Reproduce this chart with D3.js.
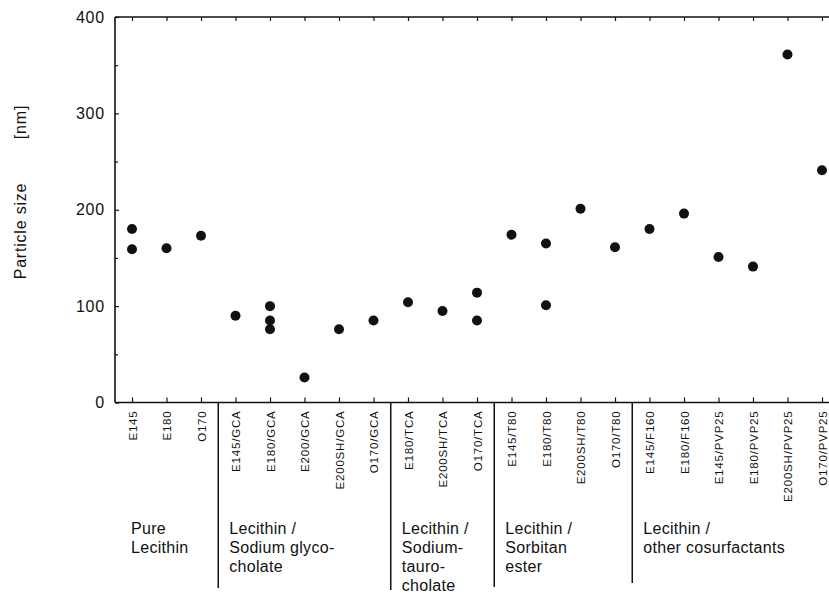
<!DOCTYPE html>
<html>
<head>
<meta charset="utf-8">
<script src="https://cdn.jsdelivr.net/npm/d3@7"></script>
<style>
  html, body { margin: 0; padding: 0; background: #fff; }
  svg { display: block; }
  text { font-family: "Liberation Sans", Arial, Helvetica, sans-serif; fill: #111; }
</style>
</head>
<body>
<svg id="chart" width="829" height="598"></svg>
<script>
const categories = [
  "E145", "E180", "O170",
  "E145/GCA", "E180/GCA", "E200/GCA", "E200SH/GCA", "O170/GCA",
  "E180/TCA", "E200SH/TCA", "O170/TCA",
  "E145/T80", "E180/T80", "E200SH/T80", "O170/T80",
  "E145/F160", "E180/F160", "E145/PVP25", "E180/PVP25", "E200SH/PVP25", "O170/PVP25"
];
const particleSizes = [
  [180, 159], [160], [173],
  [90], [100, 85, 76], [26], [76], [85],
  [104], [95], [114, 85],
  [174], [165, 101], [201], [161],
  [180], [196], [151], [141], [361], [241]
];
const groupSizes = [3, 5, 3, 4, 6];
const groupLabels = [
  ["Pure", "Lecithin"],
  ["Lecithin /", "Sodium glyco-", "cholate"],
  ["Lecithin /", "Sodium-", "tauro-", "cholate"],
  ["Lecithin /", "Sorbitan", "ester"],
  ["Lecithin /", "other cosurfactants"]
];
const yMajorTicks = [0, 100, 200, 300, 400];
const yMinorTicks = [50, 150, 250, 350];
const yTitle = "Particle size";
const yUnit = "[nm]";

const W = 829, H = 598;
const axisX = 115, topY = 17, bottomY = 402.5;
const svg = d3.select("#chart");

const x = d3.scalePoint().domain(categories).range([132, 822]);
const y = d3.scaleLinear().domain([0, 400]).range([bottomY, topY]);

// frame lines
svg.append("line").attr("x1", axisX).attr("x2", axisX).attr("y1", topY).attr("y2", bottomY)
  .attr("stroke", "#111").attr("stroke-width", 1.6);
svg.append("line").attr("x1", axisX).attr("x2", W).attr("y1", bottomY).attr("y2", bottomY)
  .attr("stroke", "#111").attr("stroke-width", 1.6);
svg.append("line").attr("x1", axisX).attr("x2", W).attr("y1", topY).attr("y2", topY)
  .attr("stroke", "#111").attr("stroke-width", 1.4);

// y axis
const yAxis = svg.append("g").attr("transform", `translate(${axisX},0)`)
  .call(d3.axisLeft(y).tickValues(yMajorTicks).tickSizeInner(-4).tickSizeOuter(0).tickPadding(10));
yAxis.select(".domain").remove();
yAxis.selectAll("line").attr("stroke", "#111").attr("stroke-width", 1.2);
yAxis.selectAll("text").style("font-size", "16px").style("letter-spacing", "0.8px")
  .attr("fill", "#111");

const yMinor = svg.append("g").attr("transform", `translate(${axisX},0)`)
  .call(d3.axisLeft(y).tickValues(yMinorTicks).tickSizeInner(-3).tickSizeOuter(0).tickFormat(""));
yMinor.select(".domain").remove();
yMinor.selectAll("line").attr("stroke", "#111").attr("stroke-width", 1.2);

// bottom axis
const xAxis = svg.append("g").attr("transform", `translate(0,${bottomY})`)
  .call(d3.axisBottom(x).tickSizeInner(-5).tickSizeOuter(0));
xAxis.select(".domain").remove();
xAxis.selectAll("line").attr("stroke", "#111").attr("stroke-width", 1.2);
xAxis.selectAll("text")
  .attr("transform", "rotate(-90)")
  .attr("text-anchor", "end")
  .attr("x", -8).attr("y", 0).attr("dy", "0.35em")
  .style("font-size", "11.5px").style("letter-spacing", "0.8px")
  .attr("fill", "#111");

// top axis ticks
const topAxis = svg.append("g").attr("transform", `translate(0,${topY})`)
  .call(d3.axisTop(x).tickSizeInner(-4).tickSizeOuter(0).tickFormat(""));
topAxis.select(".domain").remove();
topAxis.selectAll("line").attr("stroke", "#111").attr("stroke-width", 1.2);

// group dividers and labels
let start = 0;
const dividerBottoms = [588, 590, 587, 583];
groupSizes.forEach((n, gi) => {
  const first = categories[start];
  let lx;
  if (gi === 0) {
    lx = x(first) - 1;
  } else {
    const prev = categories[start - 1];
    const dx = (x(prev) + x(first)) / 2;
    svg.append("line").attr("x1", dx).attr("x2", dx)
      .attr("y1", bottomY).attr("y2", dividerBottoms[gi - 1])
      .attr("stroke", "#111").attr("stroke-width", 1.5);
    lx = dx + 11;
  }
  const t = svg.append("text").attr("x", lx).attr("y", 534)
    .style("font-size", "16px").style("letter-spacing", "0.3px");
  groupLabels[gi].forEach((line, li) => {
    t.append("tspan").attr("x", lx).attr("dy", li === 0 ? 0 : 19).text(line);
  });
  start += n;
});

// points
const pts = [];
categories.forEach((c, i) => particleSizes[i].forEach(v => pts.push({ c, v })));
svg.append("g").selectAll("circle").data(pts).join("circle")
  .attr("cx", d => x(d.c)).attr("cy", d => y(d.v)).attr("r", 5)
  .attr("fill", "#111");

// y title
svg.append("text").attr("transform", "translate(26,231) rotate(-90)")
  .attr("text-anchor", "middle").style("font-size", "16px").style("letter-spacing", "0.8px")
  .text(yTitle);
svg.append("text").attr("transform", "translate(26,122) rotate(-90)")
  .attr("text-anchor", "middle").style("font-size", "16px").style("letter-spacing", "0.8px")
  .text(yUnit);
</script>
</body>
</html>
